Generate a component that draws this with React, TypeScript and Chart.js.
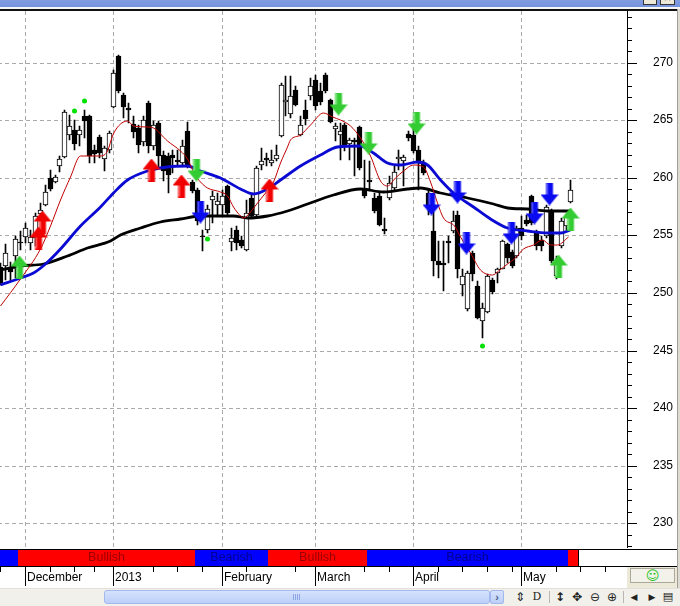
import React, { useEffect, useRef } from 'react';
import { Chart, registerables } from 'chart.js';
Chart.register(...registerables);

// ---------- data ----------
const opens = [252.27,252.33,252.19,253.25,254.47,254.90,254.38,254.79,256.90,257.68,
259.99,259.67,261.06,261.82,263.75,264.19,263.75,265.34,265.34,262.39,
263.55,261.64,262.45,266.16,270.55,267.22,266.07,264.71,264.33,263.08,
266.50,262.74,264.77,262.02,261.87,262.02,261.58,261.30,264.04,259.61,
258.92,254.99,255.51,258.11,257.68,257.68,259.27,254.41,255.51,254.64,
253.77,258.26,256.81,261.15,261.73,261.30,261.64,263.67,266.59,265.58,
267.66,263.75,265.92,267.14,268.52,267.51,268.96,266.79,264.25,263.75,
264.62,262.97,263.32,264.42,259.13,259.79,258.26,258.40,255.57,258.26,
259.13,261.64,261.44,263.84,263.75,262.39,261.30,258.70,255.42,252.76,
252.62,254.49,255.36,256.81,250.65,248.63,253.49,250.59,247.55,248.33,
251.11,251.75,252.10,254.21,253.54,253.19,255.66,256.38,258.40,255.22,
254.64,254.93,257.10,251.46,254.06,255.80,257.91];
const highs = [252.6,254.21,252.65,254.93,255.36,256.12,255.51,256.98,257.85,259.41,
260.72,260.28,261.93,265.92,265.49,265.05,264.47,265.92,265.49,262.89,
263.75,262.74,264.04,269.39,270.69,267.37,266.53,265.34,264.62,265.34,
266.64,264.91,264.91,262.30,262.16,262.45,262.45,263.32,264.82,259.85,
259.15,255.51,257.68,258.83,258.69,258.98,259.41,255.66,255.80,254.93,
258.11,258.69,261.00,262.60,262.16,262.45,262.89,268.24,268.81,268.81,
267.94,265.34,266.79,268.67,268.96,268.24,269.11,266.85,264.77,264.77,
264.77,263.47,263.47,264.47,261.58,261.44,258.69,258.69,256.52,260.13,
261.00,262.45,262.02,264.04,264.77,262.74,261.58,259.00,257.07,254.49,
254.49,254.93,257.10,257.10,252.04,251.89,253.63,251.02,249.15,251.61,
251.32,252.19,254.64,254.36,253.77,255.80,256.66,256.81,258.55,255.51,
254.93,257.68,257.25,253.19,256.52,256.90,259.79];
const lows = [250.7,251.17,251.02,251.34,253.77,254.38,253.77,254.06,256.66,257.53,
258.83,259.56,260.48,261.76,263.32,262.45,262.74,263.49,261.32,261.32,
261.76,260.57,262.16,266.07,267.37,265.20,264.79,263.47,262.16,262.74,
262.16,262.45,260.86,259.70,258.72,260.43,261.15,261.00,260.86,258.69,
255.94,253.63,255.23,256.09,256.66,256.81,256.81,253.63,253.77,253.92,
253.63,256.52,256.66,260.72,261.00,261.00,261.44,263.55,265.34,265.20,
266.21,263.61,264.62,266.79,265.92,266.36,267.37,264.77,263.17,261.58,
262.30,261.58,260.13,260.72,258.26,258.83,256.96,255.80,255.08,258.11,
258.98,260.72,259.27,263.17,262.16,258.98,260.28,256.80,251.46,251.32,
250.16,252.62,255.22,251.32,249.72,248.42,251.02,247.70,246.11,248.28,
249.87,250.88,252.04,252.62,252.19,253.05,254.64,255.80,255.94,253.77,
253.63,254.79,252.62,251.23,253.92,255.50,257.83];
const closes = [250.88,253.43,251.81,254.70,254.30,255.60,254.82,256.66,257.18,258.75,
259.04,260.08,261.64,265.75,264.47,262.95,264.19,264.91,261.87,262.10,
262.16,262.60,263.90,269.11,267.51,266.16,265.92,263.95,262.89,264.99,
262.74,264.62,261.87,260.57,260.28,261.73,261.38,262.80,261.15,258.83,
256.23,254.82,257.25,258.46,257.97,258.40,256.96,254.79,254.36,254.06,
256.96,256.66,260.86,261.44,261.52,261.58,262.02,268.09,266.79,267.08,
266.36,264.62,265.12,267.94,266.21,266.56,267.51,264.82,264.47,264.04,
262.69,263.26,263.08,260.86,258.40,259.61,257.10,255.94,255.36,259.56,
260.48,261.78,261.82,263.43,262.30,261.30,260.43,257.40,252.76,252.47,
252.41,254.36,256.23,252.04,251.46,251.75,251.61,247.85,248.72,251.46,
250.07,252.04,254.49,253.06,252.33,255.66,254.99,256.03,256.09,254.06,
254.06,257.48,252.76,252.76,256.23,256.60,258.98];

const redMaX = [0,4.0,8.1,10.1,12.1,14.2,16.2,18.2,20.3,21.7,22.7,23.9,25.8,27.0,29.9,31.1,33.9,36.6,37.9,39.3,40.6,42.0,44.7,46.1,47.4,48.8,49.4,50.8,52.2,53.9,55.5,56.9,58.3,59.0,61.0,63.0,65.7,67.5,69.1,71.2,73.2,75.2,77.3,78.7,80.3,82.0,84.0,86.0,87.5,88.9,90.1,92.2,93.6,95.6,97.6,100.1,101.3,103.1,104.8,106.4,108.4,110.3,111.9,113.3,115.4];
const redMaY = [248.9,251.2,253.8,255.8,258.1,260.1,261.9,261.9,261.9,262.3,263.6,264.5,264.9,264.5,264.4,264.3,263.2,262.3,261.6,260.3,259.6,259.1,258.8,258.4,257.5,256.7,256.55,257.0,257.8,258.7,259.6,261.3,262.7,263.3,263.75,264.6,265.6,265.3,265.05,264.5,263.5,261.9,259.7,259.3,260.0,260.6,261.15,260.9,259.6,257.8,256.5,255.8,254.9,253.5,252.0,251.6,251.9,252.5,253.05,253.8,254.2,254.6,254.2,254.2,254.9];
const blueMaX = [0,4.0,6.6,9.1,12.1,16.2,20.3,22.9,25.8,29.8,33.9,38.0,40.6,44.7,48.8,51.4,54.3,56.9,61.0,65.1,68.5,73.2,75.9,78.7,81.4,84.8,86.9,89.5,92.1,96.2,99.7,103.1,107.2,111.3,113.9,116.0];
const blueMaY = [250.65,251.3,251.7,252.5,253.8,255.8,257.5,258.7,259.85,260.6,260.9,261.0,260.6,260.0,259.0,258.6,259.0,259.85,261.0,262.0,262.7,262.75,262.2,261.3,261.15,261.4,261.1,259.85,258.7,257.5,256.4,255.6,255.4,255.2,255.2,255.5];
const blackMaX = [0,4.0,8.7,13.6,17.6,22.3,24.3,28.4,32.5,36.6,40.6,47.4,50.2,54.3,58.3,62.4,67.7,73.2,77.9,82.8,85.4,89.5,95.0,100.3,103.1,107.2,111.3,116.0];
const blackMaY = [252.0,252.3,252.5,253.2,253.9,254.5,255.0,255.65,256.15,256.45,256.65,256.65,256.5,256.7,257.1,257.7,258.55,259.0,258.8,259.05,259.15,258.7,258.25,257.7,257.4,257.25,257.15,257.1];

const greenUpX = [3.8, 113.5, 115.8];
const greenUpY = [252.26, 252.34, 256.42];
const greenDownX = [39.8, 68.6, 74.7, 84.6];
const greenDownY = [260.67, 266.40, 263.06, 264.79];
const redUpX = [8.4, 7.7, 30.65, 36.8, 54.6];
const redUpY = [256.2, 254.77, 260.67, 259.28, 258.94];
const blueDownX = [40.6, 87.7, 92.9, 94.8, 103.8, 108.6, 111.7];
const blueDownY = [257.07, 257.77, 258.81, 254.30, 255.25, 256.98, 258.63];
const dotX = [15, 17, 42, 98];
const dotY = [265.84, 266.70, 254.73, 245.38];

const monthIdx = [5, 23, 45, 64, 84, 106];
const monthLabels = ['December', '2013', 'February', 'March', 'April', 'May'];
const weekIdx = [0, 10, 15, 19, 31, 36, 41, 50, 60, 74, 79, 89, 94, 99, 104, 113, 118, 123];
const bandStart = [0, 4, 40, 55, 75, 116];
const bandEnd = [3, 39, 54, 74, 115, 117];
const bandTrend = ['Bearish', 'Bullish', 'Bearish', 'Bullish', 'Bearish', 'Bullish'];
const yTicks = [230, 235, 240, 245, 250, 255, 260, 265, 270];

const FONT = '"Liberation Sans", Arial, sans-serif';

function makeArrow(color: string, light: string, dir: 'up' | 'down') {
  const c = document.createElement('canvas');
  c.width = 18; c.height = 23;
  const g = c.getContext('2d')!;
  g.save();
  if (dir === 'up') { g.translate(0, 23); g.scale(1, -1); }
  g.beginPath();
  g.moveTo(5.5, 0); g.lineTo(12.5, 0); g.lineTo(12.5, 12); g.lineTo(18, 12);
  g.lineTo(9, 23); g.lineTo(0, 12); g.lineTo(5.5, 12); g.closePath();
  g.fillStyle = color; g.fill();
  g.fillStyle = light;
  g.fillRect(6, 1, 1.5, 11);
  g.restore();
  return c;
}

const decorPlugin = {
  id: 'decor',
  beforeDatasetsDraw(chart: any) { chart.ctx.save(); chart.ctx.translate(0.5, 0); },
  afterDatasetsDraw(chart: any) { chart.ctx.restore(); },
  afterDraw(chart: any) {
    const { ctx, chartArea } = chart;
    const xs = chart.scales.x, ys = chart.scales.y;
    const W = chart.width;
    const top = 549, bot = 566;
    ctx.save();
    ctx.fillStyle = '#fff';
    ctx.fillRect(0, chartArea.bottom, W, bot - chartArea.bottom);
    bandStart.forEach((s, k) => {
      const x0 = Math.round(xs.getPixelForValue(s - 0.5));
      const x1 = Math.round(xs.getPixelForValue(bandEnd[k] + 0.5));
      const bull = bandTrend[k] === 'Bullish';
      ctx.fillStyle = bull ? '#ff0000' : '#0000ff';
      ctx.fillRect(x0, top, x1 - x0, bot - top);
      ctx.fillStyle = '#000';
      ctx.fillRect(x1, top, 1, bot - top);
      if (x1 - x0 > 60) {
        ctx.fillStyle = bull ? '#9a0000' : '#000090';
        ctx.font = '12.5px ' + FONT;
        ctx.textAlign = 'center';
        ctx.textBaseline = 'middle';
        ctx.fillText(bandTrend[k], (x0 + x1) / 2, 558);
      }
    });
    ctx.fillStyle = '#000';
    ctx.fillRect(0, top, W, 1);
    ctx.fillRect(0, bot, W, 1);
    monthIdx.forEach(i => {
      const px = Math.round(xs.getPixelForValue(i));
      ctx.fillRect(px, bot + 1, 1, 19);
    });
    weekIdx.forEach(i => {
      const px = Math.round(xs.getPixelForValue(i));
      ctx.fillRect(px, bot + 1, 1, 5);
    });
    for (let v = Math.ceil(ys.min); v <= ys.max; v++) {
      if (v % 5 !== 0) {
        const py = Math.round(ys.getPixelForValue(v));
        ctx.fillRect(chartArea.right, py, 5, 1);
      }
    }
    ctx.restore();
  }
};

export default function App() {
  const ref = useRef<HTMLCanvasElement>(null);
  useEffect(() => {
    const idx = opens.map((_, i) => i);
    const pts = (xs: number[], ys: number[]) => xs.map((x, k) => ({ x, y: ys[k] }));
    const arrowGreenUp = makeArrow('#33cc33', '#7fe67f', 'up');
    const arrowGreenDown = makeArrow('#33cc33', '#7fe67f', 'down');
    const arrowRedUp = makeArrow('#f00000', '#ff6a6a', 'up');
    const arrowBlueDown = makeArrow('#0a0af0', '#5a5aff', 'down');
    const lineDs = (xs: number[], ys: number[], color: string, w: number, order: number) => ({
      type: 'line', data: pts(xs, ys), borderColor: color, borderWidth: w, pointRadius: 0,
      cubicInterpolationMode: 'monotone', fill: false, order,
    });
    const arrowDs = (xs: number[], ys: number[], img: HTMLCanvasElement, order: number) => ({
      type: 'scatter', data: pts(xs, ys), pointStyle: img, pointRadius: 9, order,
    });
    const chart = new Chart(ref.current!, {
      type: 'bar',
      data: {
        datasets: [
          { type: 'bar', data: idx.map(i => ({ x: i, y: [lows[i], highs[i]] })), backgroundColor: '#000', barThickness: 1, grouped: false, order: 20 } as any,
          { type: 'bar', data: idx.map(i => ({ x: i, y: [opens[i], closes[i]] })),
            backgroundColor: idx.map(i => (closes[i] >= opens[i] ? '#ffffff' : '#000000')),
            borderColor: '#000', borderWidth: 1, borderSkipped: false, barThickness: 5, grouped: false, order: 19 } as any,
          lineDs(blackMaX, blackMaY, '#000000', 2.8, 12),
          lineDs(blueMaX, blueMaY, '#0a0ad2', 2.8, 11),
          lineDs(redMaX, redMaY, '#c00000', 1, 10),
          { type: 'scatter', data: pts(dotX, dotY), pointRadius: 2.5, backgroundColor: '#00e000', borderWidth: 0, order: 5 } as any,
          arrowDs(greenUpX, greenUpY, arrowGreenUp, 4),
          arrowDs(greenDownX, greenDownY, arrowGreenDown, 3),
          arrowDs(redUpX, redUpY, arrowRedUp, 2),
          arrowDs(blueDownX, blueDownY, arrowBlueDown, 1),
        ] as any,
      },
      options: {
        animation: false, responsive: false, maintainAspectRatio: false, devicePixelRatio: 1,
        events: [],
        layout: { autoPadding: false, padding: { top: 11, left: 0, right: 0, bottom: 0 } },
        plugins: { legend: { display: false }, tooltip: { enabled: false } },
        scales: {
          x: {
            type: 'linear', min: -0.5, max: 127.5, offset: false, alignToPixels: true,
            afterBuildTicks: (s: any) => { s.ticks = monthIdx.map(v => ({ value: v })); },
            afterFit: (s: any) => { s.height = 40; s.paddingLeft = 0; s.paddingRight = 0; s.paddingTop = 0; s.paddingBottom = 0; },
            grid: { offset: false, color: '#aaaaaa', drawTicks: false, lineWidth: 1, borderDash: [4, 3] },
            border: { display: false, dash: [4, 3] },
            ticks: {
              autoSkip: false, maxRotation: 0, align: 'start', labelOffset: 2, padding: 22,
              color: '#000', font: { family: FONT, size: 12 },
              callback: (v: any) => { const k = monthIdx.indexOf(Number(v)); return k >= 0 ? monthLabels[k] : ''; },
            },
          },
          y: {
            type: 'linear', position: 'right', min: 227.85, max: 274.49, alignToPixels: true,
            afterBuildTicks: (s: any) => { s.ticks = yTicks.map(v => ({ value: v })); },
            afterFit: (s: any) => { s.width = 50; s.paddingLeft = 0; s.paddingRight = 0; s.paddingTop = 0; s.paddingBottom = 0; },
            grid: { color: '#aaaaaa', tickLength: 10, tickColor: '#000', tickBorderDash: [], lineWidth: 1, borderDash: [4, 3] },
            border: { display: true, color: '#000', width: 1, dash: [4, 3] },
            ticks: { padding: 16, color: '#000', font: { family: FONT, size: 12 }, callback: (v: any) => String(v) },
          },
        },
      } as any,
      plugins: [decorPlugin],
    });
    return () => chart.destroy();
  }, []);

  const abs = (l: number, t: number, w: number, h: number, extra: any = {}) => ({ position: 'absolute' as const, left: l, top: t, width: w, height: h, ...extra });
  const icon = (l: number, ch: string, extra: any = {}) => (
    <div style={abs(l - 8, 589, 16, 16, { textAlign: 'center', lineHeight: '16px', fontSize: 12, fontFamily: '"DejaVu Sans", sans-serif', color: '#222', ...extra })}>{ch}</div>
  );

  return (
    <div style={abs(0, 0, 680, 606, { overflow: 'hidden', background: '#fff', fontFamily: FONT })}>
      <canvas ref={ref} width={679} height={588} style={abs(-2, 0, 679, 588)} />
      {/* title strip */}
      <div style={abs(0, 0, 680, 7, { background: 'linear-gradient(#819ce1,#7592dc)' })} />
      <div style={abs(0, 7, 680, 2, { background: '#f6f6f6' })} />
      <div style={abs(0, 9, 677, 2, { background: '#111' })} />
      <div style={abs(643, -9, 14, 14, { background: '#ece9d8', border: '1px solid #333', boxSizing: 'border-box' })} />
      <div style={abs(660, -9, 15, 14, { background: '#ece9d8', border: '1px solid #333', boxSizing: 'border-box', fontSize: 12, lineHeight: '12px', textAlign: 'center' })}>×</div>
      {/* right border */}
      <div style={abs(677, 9, 3, 597, { background: '#dedbd3', borderLeft: '1px solid #a09e97', boxSizing: 'border-box' })} />
      {/* right lower panel */}
      <div style={abs(627, 567, 50, 21, { background: '#ece9d8' })} />
      <div style={abs(630, 568, 45, 15, { background: '#f2f1ea', border: '1px solid #aca899', boxSizing: 'border-box', textAlign: 'center', color: '#22c422', fontSize: 13, lineHeight: '13px', fontFamily: '"DejaVu Sans", sans-serif' })}>☺</div>
      {/* bottom scroll/tool row */}
      <div style={abs(0, 588, 680, 18, { background: '#f1f0ea', borderTop: '1px solid #e2e0d8', boxSizing: 'border-box' })} />
      <div style={abs(104, 590, 386, 14, { background: 'linear-gradient(#d6e2fd,#bccff8)', border: '1px solid #a3b9ee', borderRadius: 3, boxSizing: 'border-box' })} />
      {[0, 1, 2, 3].map(k => <div key={k} style={abs(293 + k * 2, 594, 1, 6, { background: '#8ea6e2' })} />)}
      <div style={abs(490, 590, 14, 14, { background: 'linear-gradient(#d6e2fd,#bccff8)', border: '1px solid #a3b9ee', borderRadius: 2, boxSizing: 'border-box', textAlign: 'center', fontSize: 11, lineHeight: '12px', color: '#4d6185', fontWeight: 'bold' })}>›</div>
      {icon(520, '⇕')}
      {icon(537, 'D', { fontFamily: '"DejaVu Serif", serif', fontSize: 11 })}
      <div style={abs(549, 591, 1, 12, { background: '#b8b6ae' })} />
      {icon(560, '↕', { fontWeight: 'bold' })}
      {icon(577, '✥')}
      {icon(595, '⊖')}
      {icon(612, '⊕')}
      <div style={abs(623, 591, 1, 12, { background: '#b8b6ae' })} />
      {icon(634, '◀', { fontSize: 9 })}
      {icon(652, '▶', { fontSize: 9 })}
      {icon(668, '▤', { fontSize: 11 })}
    </div>
  );
}
